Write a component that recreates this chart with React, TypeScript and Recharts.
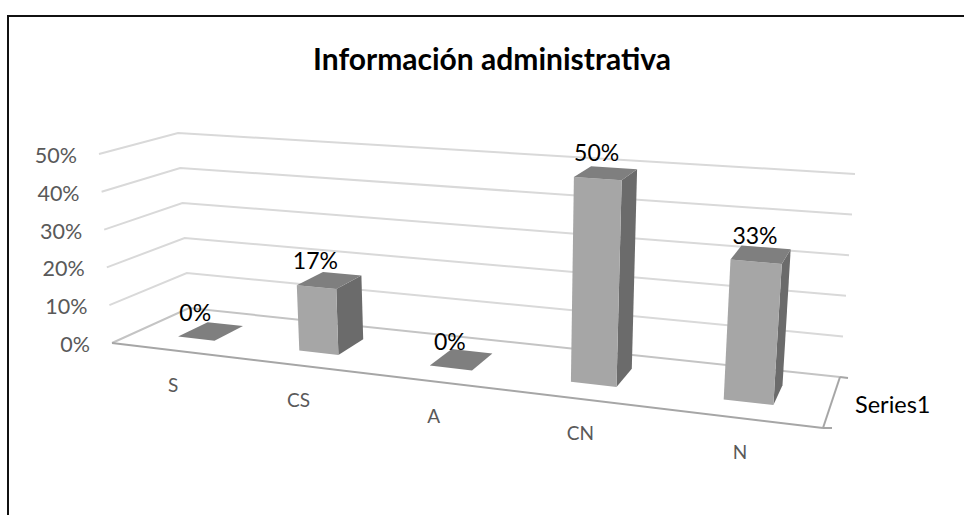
import React from "react";
import { Bar, BarChart, CartesianGrid, LabelList, ReferenceLine, XAxis, YAxis } from "recharts";

const categories = ["S", "CS", "A", "CN", "N"];
const seriesValues = [0, 17, 0, 50, 33];
const valueTicks = [0, 10, 20, 30, 40, 50];
const seriesName = "Series1";
const chartTitle = "Información administrativa";

const chartData = categories.map((name, i) => ({ name, value: seriesValues[i] }));

const WIDTH = 964;
const HEIGHT = 515;
const FONT = "Lato, Carlito, sans-serif";

// flat plot rectangle that recharts lays out, before the perspective is applied
const margin = { top: 100, right: 100, bottom: 90, left: 90 };
const AXIS_SIZE = 10;
const plotLeft = margin.left + AXIS_SIZE;
const plotW = WIDTH - plotLeft - margin.right;
const plotH = HEIGHT - margin.top - margin.bottom - AXIS_SIZE;

type Pt = [number, number];

// homography from the unit square to a quad (front-left, front-right, back-right, back-left)
const squareToQuad = ([p0, p1, p2, p3]: Pt[]) => {
  const sx = p0[0] - p1[0] + p2[0] - p3[0];
  const sy = p0[1] - p1[1] + p2[1] - p3[1];
  const dx1 = p1[0] - p2[0];
  const dx2 = p3[0] - p2[0];
  const dy1 = p1[1] - p2[1];
  const dy2 = p3[1] - p2[1];
  const den = dx1 * dy2 - dx2 * dy1;
  const g = (sx * dy2 - dx2 * sy) / den;
  const h = (dx1 * sy - sx * dy1) / den;
  const a = p1[0] - p0[0] + g * p1[0];
  const b = p3[0] - p0[0] + h * p3[0];
  const d = p1[1] - p0[1] + g * p1[1];
  const e = p3[1] - p0[1] + h * p3[1];
  return (s: number, t: number): Pt => {
    const w = g * s + h * t + 1;
    return [(a * s + b * t + p0[0]) / w, (d * s + e * t + p0[1]) / w];
  };
};

const floorMap = squareToQuad([[112, 343], [823, 428], [840, 377], [189, 308]]);
const ceilMap = squareToQuad([[99, 154], [839, 205], [855, 174], [178, 133]]);

// s: along the categories, d: depth (0 front, 1 back), t: height (0 floor, 1 axis top)
const project = (s: number, d: number, t: number): Pt => {
  const lo = floorMap(s, d);
  const hi = ceilMap(s, d);
  return [lo[0] + (hi[0] - lo[0]) * t, lo[1] + (hi[1] - lo[1]) * t];
};

const toS = (x: number) => (x - plotLeft) / plotW;
const toT = (y: number) => (margin.top + plotH - y) / plotH;

const poly = (pts: Pt[]) => pts.map((p) => `${p[0].toFixed(1)},${p[1].toFixed(1)}`).join(" ");

const BAR_FRONT = 0.3;
const BAR_BACK = 0.7;
const BAR_SHIFT = 0.003; // bars sit a touch right of the band centre

const Bar3D = (props: any) => {
  const { x, y, width, height } = props;
  const s0 = toS(x) + BAR_SHIFT;
  const s1 = toS(x + width) + BAR_SHIFT;
  const top = toT(y);
  const base = toT(y + height);
  const p = project;
  return (
    <g>
      {height > 0 && (
        <>
          <polygon
            points={poly([p(s1, BAR_FRONT, base), p(s1, BAR_BACK, base), p(s1, BAR_BACK, top), p(s1, BAR_FRONT, top)])}
            fill="#6b6b6b"
          />
          <polygon
            points={poly([p(s0, BAR_FRONT, base), p(s1, BAR_FRONT, base), p(s1, BAR_FRONT, top), p(s0, BAR_FRONT, top)])}
            fill="#a6a6a6"
          />
        </>
      )}
      <polygon
        points={poly([p(s0, BAR_FRONT, top), p(s1, BAR_FRONT, top), p(s1, BAR_BACK, top), p(s0, BAR_BACK, top)])}
        fill="#7f7f7f"
      />
    </g>
  );
};

const BarValueLabel = (props: any) => {
  const { x, y, width, value } = props;
  const [px, py] = project(toS(x + width / 2) + BAR_SHIFT, BAR_FRONT, toT(y));
  return (
    <text x={px - 1} y={py - 27} textAnchor="middle" dominantBaseline="central" fontFamily={FONT} fontSize={23} fill="#000">
      {`${value}%`}
    </text>
  );
};

const WallLine = (props: any) => {
  const t = toT(props.y1);
  const a = project(0, 0, t);
  const b = project(0, 1, t);
  const c = project(1, 1, t);
  return (
    <polyline
      key={props.key}
      points={poly([a, b, c])}
      fill="none"
      stroke={t === 0 ? "#c4c4c4" : "#d9d9d9"}
      strokeWidth={2}
    />
  );
};

const FloorFrame = () => {
  const fl = project(0, 0, 0);
  const fr = project(1, 0, 0);
  const br = project(1, 1, 0);
  return (
    <g fill="none" stroke="#a6a6a6" strokeWidth={2}>
      <line x1={fl[0]} y1={fl[1]} x2={fr[0]} y2={fr[1]} />
      <line x1={fr[0]} y1={fr[1]} x2={br[0]} y2={br[1]} />
      <line x1={fr[0]} y1={fr[1]} x2={fr[0] + 9} y2={fr[1]} />
      <line x1={br[0]} y1={br[1]} x2={br[0] + 8} y2={br[1] + 1} />
    </g>
  );
};

const ValueTick = (props: any) => {
  const [px, py] = project(0, 0, toT(props.y));
  return (
    <text x={px - 22} y={py + 1} textAnchor="end" dominantBaseline="central" fontFamily={FONT} fontSize={21.5} fill="#595959">
      {`${props.payload.value}%`}
    </text>
  );
};

const CategoryTick = (props: any) => {
  const [px, py] = project(toS(props.x), 0, 0);
  return (
    <text x={px + 2} y={py + 34} textAnchor="middle" dominantBaseline="central" fontFamily={FONT} fontSize={19} fill="#595959">
      {props.payload.value}
    </text>
  );
};

export default function App() {
  return (
    <div style={{ position: "absolute", left: 0, top: 0, width: WIDTH, height: HEIGHT, overflow: "hidden", background: "#fff" }}>
      <div style={{ position: "absolute", left: 7, top: 15, width: WIDTH, height: HEIGHT, borderLeft: "2px solid #111", borderTop: "2px solid #111" }} />
      <BarChart
        width={WIDTH}
        height={HEIGHT}
        data={chartData}
        margin={margin}
        barCategoryGap="34.5%"
        style={{ position: "absolute", left: 0, top: 0 }}
      >
        <text x={492} y={58} textAnchor="middle" dominantBaseline="central" fontFamily={FONT} fontSize={30} fontWeight={700} fill="#000">
          {chartTitle}
        </text>
        <text x={855} y={404} dominantBaseline="central" fontFamily={FONT} fontSize={23.5} fill="#000">
          {seriesName}
        </text>
        <CartesianGrid horizontal={WallLine} vertical={false} />
        <XAxis dataKey="name" height={AXIS_SIZE} axisLine={false} tickLine={false} interval={0} tick={CategoryTick} />
        <YAxis width={AXIS_SIZE} domain={[0, 50]} ticks={valueTicks} axisLine={false} tickLine={false} interval={0} tick={ValueTick} />
        <ReferenceLine y={0} shape={FloorFrame} />
        <Bar dataKey="value" shape={Bar3D} isAnimationActive={false}>
          <LabelList dataKey="value" content={BarValueLabel} />
        </Bar>
      </BarChart>
    </div>
  );
}
